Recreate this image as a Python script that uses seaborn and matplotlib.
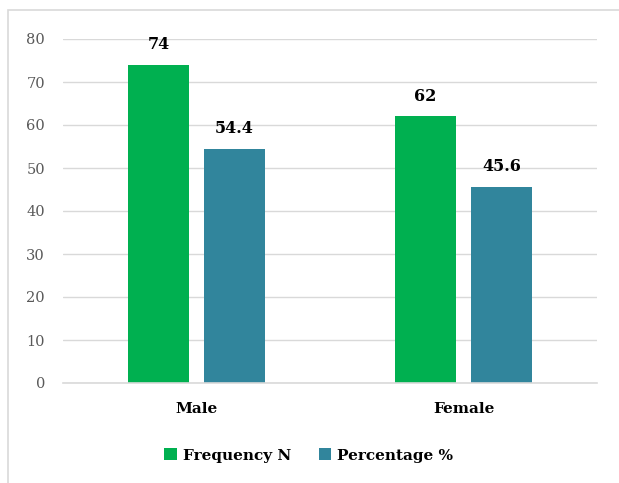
import pandas as pd
import matplotlib.pyplot as plt
import matplotlib.patches as mpatches
import seaborn as sns

# Data
genders = ['Male', 'Female']
series_names = ['Frequency N', 'Percentage %']
frequency = [74, 62]
percentage = [54.4, 45.6]
value_labels_freq = ['74', '62']
value_labels_pct = ['54.4', '45.6']
y_ticks = [0, 10, 20, 30, 40, 50, 60, 70, 80]

colors = ['#00B050', '#31859C']

df = pd.DataFrame({
    'Gender': genders * 2,
    'Series': [series_names[0]] * 2 + [series_names[1]] * 2,
    'Value': frequency + percentage,
})

sns.set_style('white')
plt.rcParams['font.family'] = ['DejaVu Serif']
plt.rcParams['text.color'] = 'black'

fig = plt.figure(figsize=(6.19, 4.83), dpi=100)
ax = fig.add_axes([63 / 619, 1 - 383 / 483, (597 - 63) / 619, (383 - 39) / 483])

sns.barplot(data=df, x='Gender', y='Value', hue='Series', palette=colors,
            width=0.57, gap=0.21, ax=ax, saturation=1, legend=True,
            linewidth=0)

ax.set_ylim(0, 80)
ax.set_xlim(-0.5, 1.5)
ax.set_yticks(y_ticks)
ax.grid(axis='y', color='#D9D9D9', linewidth=1)
ax.set_axisbelow(True)
for s in ['left', 'right', 'top']:
    ax.spines[s].set_visible(False)
ax.spines['bottom'].set_color('#D9D9D9')
ax.spines['bottom'].set_linewidth(1.2)
ax.tick_params(axis='y', length=0, pad=13, labelsize=10.5, labelcolor='#595959')
ax.tick_params(axis='x', length=0, pad=14, labelcolor='black')
for lbl in ax.get_xticklabels():
    lbl.set_fontweight('bold')
    lbl.set_fontsize(11)
ax.set_xlabel('')
ax.set_ylabel('')

# value labels
for cont, labels in zip(ax.containers, [value_labels_freq, value_labels_pct]):
    ax.bar_label(cont, labels=labels, padding=8.5, fontweight='bold',
                 fontsize=11.5, color='black')

# legend
handles, labs = ax.get_legend_handles_labels()
ax.legend(handles, labs, loc='upper center', bbox_to_anchor=(0.46, -0.15),
          ncol=2, frameon=False, handlelength=0.8, handleheight=0.8,
          handletextpad=0.4, columnspacing=1.8,
          prop={'weight': 'bold', 'size': 11})

# outer chart border (cropped on right/bottom)
fig.add_artist(mpatches.Rectangle((8 / 619, -0.1), 1.2, 1.1 - 10 / 483,
                                  transform=fig.transFigure, fill=False,
                                  edgecolor='#D9D9D9', linewidth=1.2))

plt.savefig('out.png', dpi=100)
